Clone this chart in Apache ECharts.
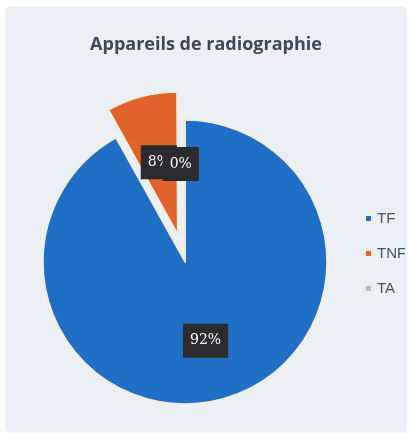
<!DOCTYPE html>
<html lang="fr">
<head>
    <meta charset="UTF-8">
    <title>Appareils de radiographie</title>
    <style>
        html, body { margin: 0; padding: 0; background: #ffffff; }
        #main {
            position: absolute;
            left: 7px;
            top: 8px;
            width: 398px;
            height: 423px;
            background: #eceff4;
            box-shadow: 0 0 3px #c8ccd4;
        }
    </style>
</head>
<body>
<div id="main"></div>
<script src="https://cdn.jsdelivr.net/npm/echarts@6/dist/echarts.min.js"></script>
<script>
// catégories et valeurs (%)
const categories = ['TF', 'TNF', 'TA'];
const values = [92, 8, 0];
const colors = ['#1f6fc6', '#e2622b', '#a9c0dc'];

const chart = echarts.init(document.getElementById('main'));

// décalage des étiquettes pour coller à l'original
const labelOffsets = { TF: [2, 7], TNF: [-1, -24], TA: [-4, -24] };

const data = categories.map((name, i) => ({
    name: name,
    value: values[i],
    selected: name === 'TNF',
    itemStyle: { color: colors[i] },
    label: { show: true, offset: labelOffsets[name] }
}));

const option = {
    title: {
        text: 'Appareils de radiographie',
        left: 'center',
        top: 23,
        textStyle: {
            fontFamily: 'Open Sans',
            fontWeight: 'bold',
            fontSize: 18,
            color: '#3b4a59'
        }
    },
    legend: {
        orient: 'vertical',
        left: 352,
        top: 198,
        itemWidth: 7,
        itemHeight: 7,
        itemGap: 20,
        icon: 'rect',
        textStyle: { fontFamily: 'Liberation Sans', fontSize: 15, color: '#44546a' },
        selectedMode: false
    },
    series: [{
        type: 'pie',
        center: [178, 254],
        radius: 142,
        startAngle: 90,
        clockwise: true,
        selectedMode: 'single',
        selectedOffset: 29,
        avoidLabelOverlap: false,
        minAngle: 0.3,
        minShowLabelAngle: 0,
        labelLayout: { hideOverlap: false },
        itemStyle: { borderColor: '#f3ecd8', borderWidth: 1.5 },
        label: {
            show: true,
            position: 'inside',
            formatter: '{c}%',
            color: '#ffffff',
            fontFamily: 'DejaVu Serif',
            fontSize: 14,
            backgroundColor: '#2b2b2d',
            padding: [10, 7]
        },
        labelLine: { show: false },
        emphasis: { disabled: true },
        data: data
    }]
};

chart.setOption(option);
</script>
</body>
</html>
